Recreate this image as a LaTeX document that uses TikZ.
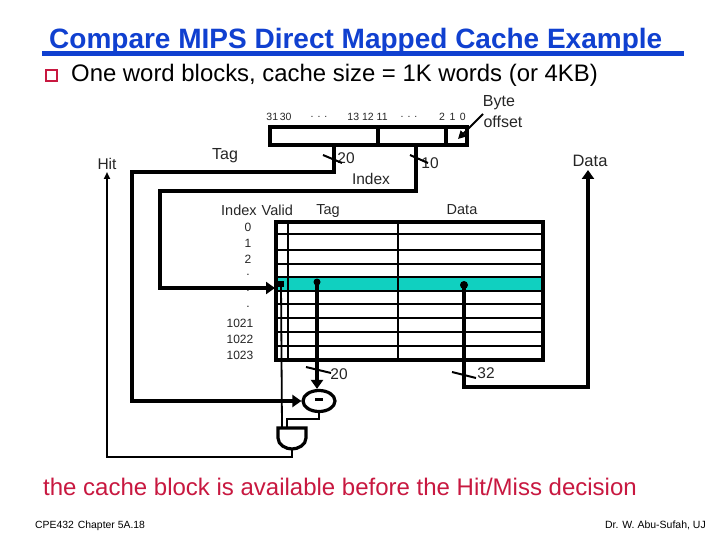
\documentclass[tikz,border=0pt]{standalone}
\usepackage{fontspec}
\setmainfont{Liberation Sans}
\usetikzlibrary{arrows.meta,shapes.geometric}
\definecolor{titleblue}{HTML}{1040D0}
\definecolor{bulletred}{HTML}{C81840}
\definecolor{rowteal}{HTML}{10D0C0}
\tikzset{
 x=1pt,y=-1pt,
 lbl/.style={inner sep=0pt,anchor=center,text=black!85},
 thick4/.style={line width=3.2pt,line join=miter},
 tick/.style={line width=2pt},
 bigarrow/.style={-{Triangle[length=9pt,width=12pt]}},
 arrs/.style={-{Triangle[length=7pt,width=6pt]}},
 dot/.style={circle,fill=black,inner sep=0pt,minimum size=#1},
}
\newcommand{\fs}[1]{\fontsize{#1}{#1}\selectfont}
\begin{document}
\begin{tikzpicture}
\useasboundingbox (0,0) rectangle (720,540);
\fill[white] (0,0) rectangle (720,540);
% title
\coordinate (ul1) at (42,54); \coordinate (ul2) at (684,54);
\draw[titleblue,line width=5pt] (ul1) -- (ul2);
\node[inner sep=0pt,anchor=base west,text=titleblue] (title) at (49,49) {\fs{28}\textbf{Compare MIPS Direct Mapped Cache Example}};
\node[draw=bulletred,line width=1.7pt,minimum size=10.5pt,inner sep=0pt] (bullet) at (51.5,75.5) {};
\node[inner sep=0pt,anchor=base west] (sub) at (71,82) {\fs{23.9}One word blocks, cache size = 1K words (or 4KB)};
% register
\coordinate (ra) at (270,127); \coordinate (rb) at (467,145);
\draw[thick4] (ra) rectangle (rb);
\coordinate (d1t) at (378,127); \coordinate (d1b) at (378,145);
\coordinate (d2t) at (446,127); \coordinate (d2b) at (446,145);
\draw[thick4] (d1t) -- (d1b); \draw[thick4] (d2t) -- (d2b);
\node[lbl] (b31) at (279,116.5) {\fs{10.5}31\,30};
\node[lbl] (bd1) at (319,116.5) {\fs{10.5}. . .};
\node[lbl] (b13) at (367.5,116.5) {\fs{10.5}13 12\hspace{3pt}11};
\node[lbl] (bd2) at (409,116.5) {\fs{10.5}. . .};
\node[lbl] (b2) at (452.5,116.5) {\fs{10.5}2\hspace{4.5pt}1\hspace{4.5pt}0};
\node[lbl] (byte) at (499,103) {\fs{16}Byte};
\node[lbl] (offs) at (503,122) {\fs{16}offset};
\coordinate (bo1) at (483,114); \coordinate (bo2) at (458,139);
\draw[line width=2pt,-{Triangle[length=8pt,width=8pt]}] (bo1) -- (bo2);
% labels
\node[lbl] (hit) at (107,164) {\fs{15.5}Hit};
\node[lbl] (tag) at (225,156) {\fs{16}Tag};
\node[lbl] (n20a) at (346,158) {\fs{15.5}20};
\node[lbl] (index) at (371,179) {\fs{15.5}Index};
\node[lbl] (n10) at (430,163) {\fs{15.5}10};
\node[lbl] (data) at (590,161) {\fs{16.5}Data};
\node[lbl] (hidx) at (257,210) {\fs{14.5}Index\hspace{5pt}Valid};
\node[lbl] (htag) at (328,211) {\fs{14.5}Tag};
\node[lbl] (hdata) at (462,210) {\fs{14.5}Data};
% teal row
\coordinate (ta) at (276,277); \coordinate (tb) at (543,291);
\fill[rowteal] (ta) rectangle (tb);
% table
\coordinate (ca) at (276,222); \coordinate (cb) at (543,360);
\draw[thick4] (ca) rectangle (cb);
\foreach \yy in {234,250,264,277,291,304,318,332,346}{
  \draw[line width=2.4pt] (276,\yy) -- (543,\yy);
}
\draw[line width=2.4pt] (288,222) -- (288,360);
\draw[line width=2.6pt] (398,222) -- (398,360);
% row labels
\foreach \t/\yy/\n in {0/227/ra0,1/243/ra1,2/259/ra2,./275/ra3,./291/ra4,./307/ra5}{
  \node[lbl] (\n) at (248,\yy) {\fs{12}\t};
}
\node[lbl] (r1021) at (240,323) {\fs{12}1021};
\node[lbl] (r1022) at (240,339) {\fs{12}1022};
\node[lbl] (r1023) at (240,355) {\fs{12}1023};
% comparator
\node[draw,line width=3.2pt,ellipse,minimum width=32pt,minimum height=21pt,inner sep=0pt] (cmp) at (319,401) {\rule[2.4pt]{8pt}{3pt}};
% tag line
\coordinate (t1) at (334,145); \coordinate (t2) at (334,172); \coordinate (t3) at (132,172); \coordinate (t4) at (132,401);
\draw[thick4,bigarrow] (t1) -- (t2) -- (t3) -- (t4) -- (cmp.west);
% index line
\coordinate (i1) at (416,145); \coordinate (i2) at (416,191); \coordinate (i3) at (160,191); \coordinate (i4) at (160,288); \coordinate (i5) at (275,288);
\draw[thick4,bigarrow] (i1) -- (i2) -- (i3) -- (i4) -- (i5);
% ticks
\coordinate (k1a) at (323,155); \coordinate (k1b) at (342,163);
\coordinate (k2a) at (410,155); \coordinate (k2b) at (428,163);
\coordinate (k3a) at (306,367); \coordinate (k3b) at (331,373);
\coordinate (k4a) at (452,372); \coordinate (k4b) at (476,378);
\draw[tick] (k1a) -- (k1b); \draw[tick] (k2a) -- (k2b); \draw[tick] (k3a) -- (k3b); \draw[tick] (k4a) -- (k4b);
\node[lbl] (n20b) at (339,374) {\fs{15.5}20};
\node[lbl] (n32) at (486,373) {\fs{15.5}32};
% AND gate
\coordinate (g1) at (278,428); \coordinate (g2) at (306,428);
\coordinate (gv) at (282,428); \coordinate (gc) at (287,428); \coordinate (gout) at (292,449);
\draw[thick4] (g1) -- (g2) -- (306,438) .. controls (306,445) and (298,449) .. (gout) .. controls (286,449) and (278,445) .. (278,438) -- cycle;
% valid line
\node[fill=black,inner sep=0pt,minimum width=6pt,minimum height=6pt] (vdot) at (281,284) {};
\draw[line width=1.8pt] (vdot.center) -- (gv);
% tag drop
\node[dot=7pt] (tdot) at (317,282) {};
\draw[line width=3.5pt,bigarrow] (tdot.center) -- (tdot.center |- cmp.north);
% data out
\node[dot=8pt] (ddot) at (464,285) {};
\coordinate (o2) at (464,387); \coordinate (o3) at (588,387); \coordinate (o4) at (588,170);
\draw[line width=3.5pt,bigarrow] (ddot.center) -- (o2) -- (o3) -- (o4);
% compare to and
\coordinate (w1) at (319,419); \coordinate (w2) at (287,419);
\draw[line width=2pt] (cmp.south) -- (w1) -- (w2) -- (gc);
% hit
\coordinate (h2) at (292,457); \coordinate (h3) at (107,457); \coordinate (h4) at (107,172);
\draw[line width=1.8pt,arrs] (gout) -- (h2) -- (h3) -- (h4);
% bottom
\node[inner sep=0pt,anchor=base west,text=bulletred] (stmt) at (43,495) {\fs{24}the cache block is available before the Hit/Miss decision};
\node[inner sep=0pt,anchor=base west] (foot1) at (35,528) {\fs{10.4}CPE432\hspace{4pt}Chapter 5A.18};
\node[inner sep=0pt,anchor=base east] (foot2) at (706,528) {\fs{10.5}Dr. W. Abu-Sufah, UJ};
\end{tikzpicture}
\end{document}
